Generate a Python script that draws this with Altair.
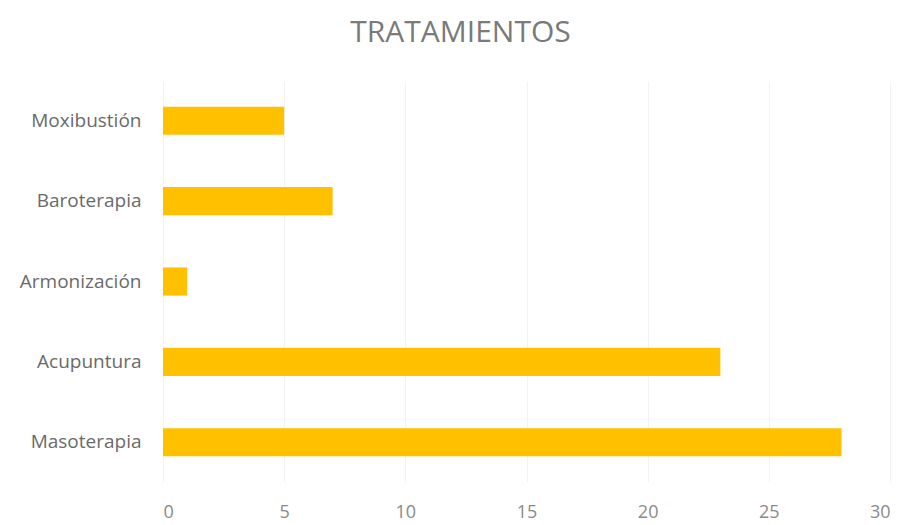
import altair as alt
import pandas as pd

categories = ["Moxibustión", "Baroterapia", "Armonización", "Acupuntura", "Masoterapia"]
values = [5, 7, 1, 23, 28]
ticks = [0, 5, 10, 15, 20, 25, 30]

df = pd.DataFrame({"tratamiento": categories, "valor": values})

chart = alt.Chart(df).mark_bar(color="#FFC000").encode(
    x=alt.X("valor:Q", scale=alt.Scale(domain=[0, 30], nice=False),
            axis=alt.Axis(values=ticks, title=None, domain=False, ticks=False,
                          grid=True, gridColor="#f3f3f3", labelPadding=21,
                          labelFontSize=18, labelColor="#8a8a8a", labelFont="Open Sans")),
    y=alt.Y("tratamiento:N", sort=categories,
            scale=alt.Scale(paddingInner=0.65, paddingOuter=0.32),
            axis=alt.Axis(title=None, domain=False, ticks=False, labelPadding=22,
                          labelFontSize=19, labelColor="#6a6a6a", labelFont="Open Sans")),
).properties(
    width=727,
    height=401,
    title=alt.TitleParams("TRATAMIENTOS", fontSize=30, color="#7a7a7a", font="Open Sans",
                          fontWeight="normal", anchor="middle", dx=-66, offset=33),
    autosize=alt.AutoSizeParams(type="none"),
    padding={"left": 155, "top": 73, "right": 6, "bottom": 40},
).configure_view(stroke=None)

chart.save("out.html", embed_options={"renderer": "svg", "actions": False})
